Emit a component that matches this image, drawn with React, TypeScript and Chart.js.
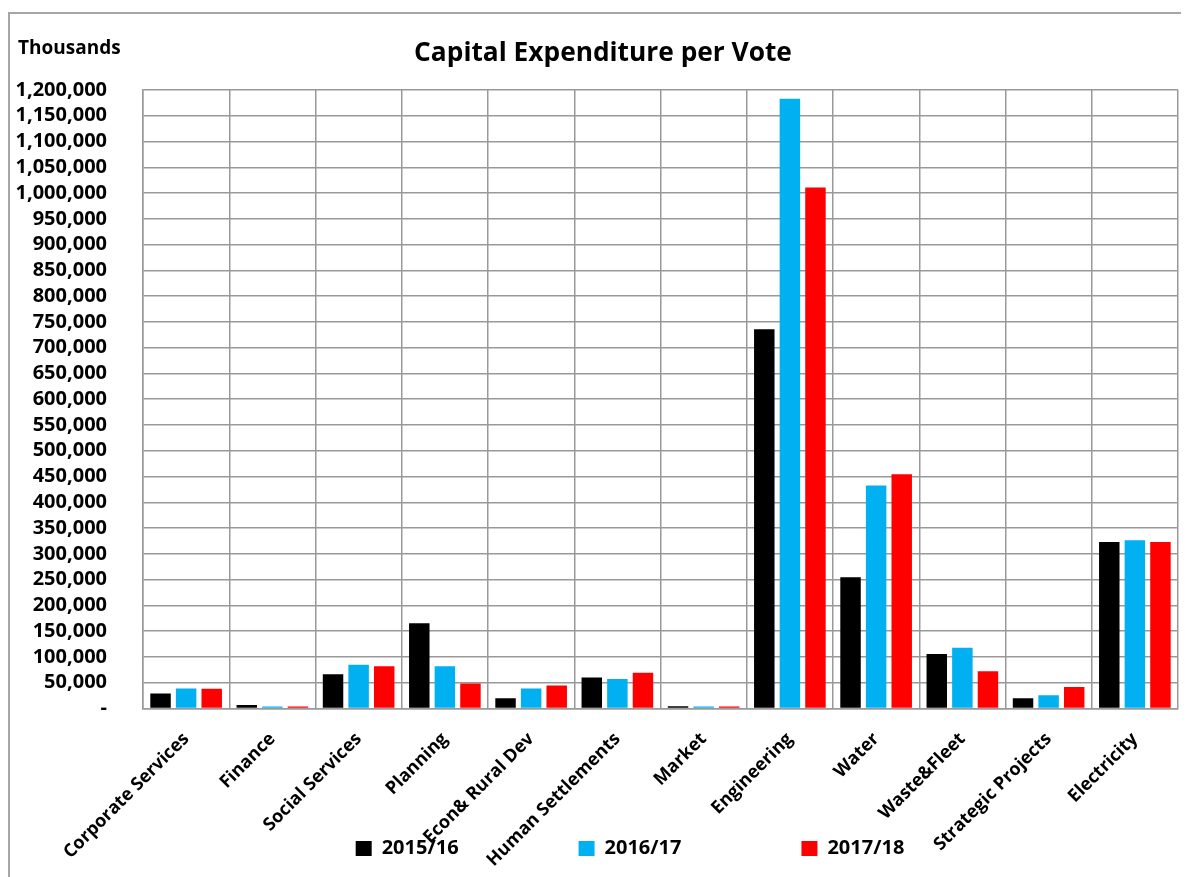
import React, { useEffect, useRef } from 'react';
import { Chart, registerables } from 'chart.js';

Chart.register(...registerables);

const categories = [
  'Corporate Services',
  'Finance',
  'Social Services',
  'Planning',
  'Econ& Rural Dev',
  'Human Settlements',
  'Market',
  'Engineering',
  'Water',
  'Waste&Fleet',
  'Strategic Projects',
  'Electricity',
];
const seriesLabels = ['2015/16', '2016/17', '2017/18'];
const values2015 = [29000, 7000, 66500, 165500, 20000, 60000, 4500, 736000, 254500, 105500, 20000, 323000];
const values2016 = [39000, 4000, 85000, 82000, 39000, 57000, 4000, 1183000, 432500, 118000, 25500, 326500];
const values2017 = [38500, 4000, 82000, 48500, 44500, 69500, 4000, 1011000, 454500, 72500, 41500, 323000];
const seriesColors = ['#000000', '#00B0F0', '#FF0000'];
const yMin = 0;
const yMax = 1200000;
const yStep = 50000;
const titleText = 'Capital Expenditure per Vote';
const unitText = 'Thousands';

const FONT = '"Open Sans", Lato, "Liberation Sans", sans-serif';
const GRID = '#999999';
const W = 1192;
const H = 870;

export default function App() {
  const ref = useRef<HTMLCanvasElement>(null);

  useEffect(() => {
    document.body.style.overflow = 'hidden';
    const canvas = ref.current;
    if (!canvas) return;

    const framePlugin = {
      id: 'frame',
      beforeDraw(chart: any) {
        const { ctx } = chart;
        ctx.save();
        ctx.fillStyle = '#ffffff';
        ctx.fillRect(0, 0, chart.width, chart.height);
        ctx.strokeStyle = '#a6a6a6';
        ctx.lineWidth = 2;
        ctx.strokeRect(1, 1, chart.width - 2, chart.height - 2);
        ctx.restore();
      },
      afterLayout(chart: any) {
        const lg = chart.legend;
        if (lg) {
          lg.left += 37;
          lg.right += 37;
        }
        const tb = chart.titleBlock;
        if (tb) {
          tb.left += 10;
          tb.right += 10;
        }
        const xs = chart.scales.x;
        if (xs) {
          xs.bottom = chart.height;
          xs.height = xs.bottom - xs.top;
        }
      },
      afterDraw(chart: any) {
        const { ctx } = chart;
        ctx.save();
        ctx.font = `bold 19px ${FONT}`;
        ctx.fillStyle = '#000000';
        ctx.textAlign = 'left';
        ctx.textBaseline = 'alphabetic';
        ctx.fillText(unitText, 10, 42);
        ctx.restore();
      },
    };

    const datasets = [values2015, values2016, values2017].map((vals, i) => ({
      label: seriesLabels[i],
      data: vals,
      backgroundColor: seriesColors[i],
      borderWidth: 0,
      categoryPercentage: 0.89,
      barPercentage: 0.8,
    }));

    const chart = new Chart(canvas, {
      type: 'bar',
      data: { labels: categories, datasets },
      plugins: [framePlugin],
      options: {
        animation: false,
        responsive: false,
        maintainAspectRatio: false,
        layout: { padding: { left: 0, right: 22, top: 0, bottom: 13.5 } },
        plugins: {
          title: {
            display: true,
            text: titleText,
            color: '#000000',
            font: { family: FONT, size: 26.3, weight: 'bold', lineHeight: 1.2 },
            padding: { top: 26, bottom: 20.4 },
          },
          legend: {
            display: true,
            position: 'bottom',
            labels: {
              boxWidth: 16,
              boxHeight: 15,
              padding: 120,
              color: '#000000',
              font: { family: FONT, size: 20, weight: 'bold' },
            },
          },
          tooltip: { enabled: false },
        },
        scales: {
          x: {
            offset: true,
            grid: { display: true, offset: true, color: GRID, lineWidth: 1.5, drawTicks: false },
            border: { display: true, color: GRID, width: 1.5 },
            ticks: {
              autoSkip: false,
              maxRotation: 45,
              minRotation: 45,
              padding: 20,
              color: '#000000',
              font: { family: FONT, size: 18, weight: 'bold' },
            },
            afterFit(scale: any) {
              scale.height = 10;
            },
          },
          y: {
            min: yMin,
            max: yMax,
            grid: { color: GRID, lineWidth: 1.5, drawTicks: false },
            border: { display: true, color: GRID, width: 1.5 },
            ticks: {
              stepSize: yStep,
              autoSkip: false,
              padding: 36,
              color: '#000000',
              font: { family: FONT, size: 20, weight: 'bold' },
              callback: (v: any) => (Number(v) === 0 ? '-' : Number(v).toLocaleString('en-US')),
            },
            afterFit(scale: any) {
              scale.width = 135;
            },
          },
        },
      },
    });

    return () => {
      chart.destroy();
    };
  }, []);

  return (
    <div style={{ position: 'relative', width: 1181, height: 869, overflow: 'hidden' }}>
      <canvas
        ref={ref}
        width={W}
        height={H}
        style={{ position: 'absolute', left: 0, top: 4, width: W, height: H }}
      />
    </div>
  );
}
